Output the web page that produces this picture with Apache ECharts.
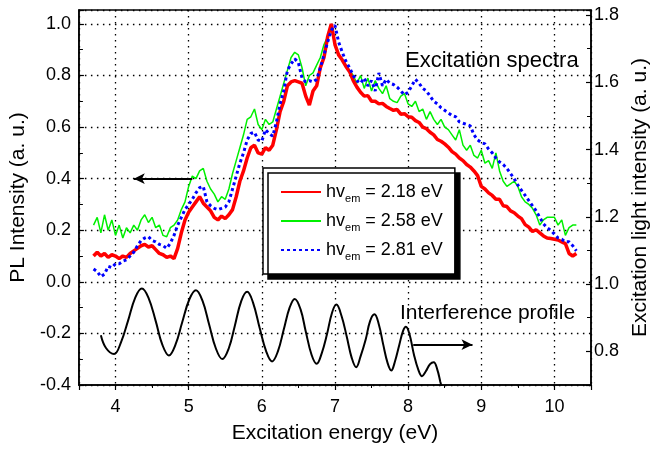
<!DOCTYPE html>
<html>
<head>
<meta charset="utf-8">
<script src="https://cdn.jsdelivr.net/npm/echarts/dist/echarts.min.js"></script>
<style>
  html, body { margin: 0; padding: 0; background: #fff; }
  #chart { width: 663px; height: 449px; }
</style>
</head>
<body>
<div id="chart"></div>
<script>
// excitation energy (eV), shared by the three PL spectra
const energy = [
  3.70, 3.75, 3.80, 3.85, 3.90, 3.95, 4.00, 4.05, 4.10, 4.15,
  4.20, 4.25, 4.30, 4.35, 4.40, 4.45, 4.50, 4.55, 4.60, 4.65,
  4.70, 4.75, 4.80, 4.85, 4.90, 4.95, 5.00, 5.05, 5.10, 5.15,
  5.20, 5.25, 5.30, 5.35, 5.40, 5.45, 5.50, 5.55, 5.60, 5.65,
  5.70, 5.75, 5.80, 5.85, 5.90, 5.95, 6.00, 6.05, 6.10, 6.15,
  6.20, 6.25, 6.30, 6.35, 6.40, 6.45, 6.50, 6.55, 6.60, 6.65,
  6.70, 6.75, 6.80, 6.85, 6.90, 6.95, 7.00, 7.05, 7.10, 7.15,
  7.20, 7.25, 7.30, 7.35, 7.40, 7.45, 7.50, 7.55, 7.60, 7.65,
  7.70, 7.75, 7.80, 7.85, 7.90, 7.95, 8.00, 8.05, 8.10, 8.15,
  8.20, 8.25, 8.30, 8.35, 8.40, 8.45, 8.50, 8.55, 8.60, 8.65,
  8.70, 8.75, 8.80, 8.85, 8.90, 8.95, 9.00, 9.05, 9.10, 9.15,
  9.20, 9.25, 9.30, 9.35, 9.40, 9.45, 9.50, 9.55, 9.60, 9.65,
  9.70, 9.75, 9.80, 9.85, 9.90, 9.95, 10.00, 10.05, 10.10, 10.15,
  10.20, 10.25, 10.30
];

// PL intensity, hv_em = 2.18 eV
const pl218 = [
  0.100, 0.115, 0.100, 0.110, 0.095, 0.105, 0.100, 0.090, 0.100, 0.095,
  0.110, 0.120, 0.130, 0.140, 0.145, 0.135, 0.140, 0.125, 0.110, 0.105,
  0.095, 0.100, 0.090, 0.130, 0.190, 0.240, 0.270, 0.290, 0.310, 0.330,
  0.305, 0.290, 0.275, 0.250, 0.240, 0.255, 0.245, 0.260, 0.280, 0.330,
  0.390, 0.430, 0.480, 0.520, 0.530, 0.500, 0.495, 0.520, 0.510, 0.530,
  0.590, 0.660, 0.700, 0.760, 0.775, 0.780, 0.775, 0.770, 0.720, 0.685,
  0.740, 0.760, 0.830, 0.870, 0.950, 1.000, 0.920, 0.880, 0.860, 0.835,
  0.815, 0.780, 0.755, 0.735, 0.720, 0.722, 0.700, 0.700, 0.690, 0.692,
  0.680, 0.672, 0.665, 0.668, 0.650, 0.652, 0.640, 0.638, 0.625, 0.618,
  0.600, 0.594, 0.580, 0.570, 0.552, 0.545, 0.535, 0.522, 0.505, 0.495,
  0.480, 0.470, 0.455, 0.445, 0.430, 0.412, 0.370, 0.360, 0.345, 0.335,
  0.320, 0.320, 0.295, 0.292, 0.275, 0.268, 0.255, 0.245, 0.222, 0.212,
  0.195, 0.202, 0.190, 0.178, 0.170, 0.168, 0.165, 0.162, 0.155, 0.148,
  0.110, 0.100, 0.110
];

// PL intensity, hv_em = 2.58 eV
const pl258 = [
  0.22, 0.25, 0.19, 0.26, 0.20, 0.24, 0.18, 0.22, 0.17, 0.21,
  0.19, 0.22, 0.20, 0.24, 0.26, 0.23, 0.25, 0.21, 0.22, 0.18,
  0.175, 0.21, 0.22, 0.24, 0.28, 0.31, 0.37, 0.41, 0.40, 0.43,
  0.44, 0.39, 0.36, 0.34, 0.31, 0.33, 0.32, 0.36, 0.42, 0.47,
  0.52, 0.57, 0.63, 0.64, 0.67, 0.61, 0.59, 0.63, 0.61, 0.62,
  0.67, 0.72, 0.77, 0.82, 0.87, 0.89, 0.88, 0.83, 0.76, 0.80,
  0.81, 0.84, 0.87, 0.92, 0.95, 0.98, 0.93, 0.88, 0.86, 0.84,
  0.82, 0.80, 0.77, 0.80, 0.75, 0.79, 0.74, 0.78, 0.75, 0.73,
  0.76, 0.71, 0.70, 0.695, 0.72, 0.73, 0.69, 0.68, 0.70, 0.66,
  0.67, 0.63, 0.66, 0.63, 0.61, 0.63, 0.60, 0.59, 0.57, 0.55,
  0.59, 0.53, 0.51, 0.53, 0.49, 0.48, 0.51, 0.46, 0.47, 0.44,
  0.50, 0.43, 0.39, 0.37, 0.38, 0.39, 0.37, 0.33, 0.31, 0.30,
  0.285, 0.26, 0.22, 0.24, 0.25, 0.25, 0.25, 0.22, 0.24, 0.18,
  0.21, 0.22, 0.22
];

// PL intensity, hv_em = 2.81 eV
const pl281 = [
  0.05, 0.04, 0.02, 0.03, 0.06, 0.055, 0.07, 0.07, 0.08, 0.085,
  0.10, 0.115, 0.14, 0.16, 0.17, 0.175, 0.16, 0.155, 0.145, 0.14,
  0.13, 0.15, 0.18, 0.22, 0.25, 0.28, 0.30, 0.32, 0.345, 0.365,
  0.37, 0.31, 0.295, 0.285, 0.28, 0.285, 0.29, 0.31, 0.36, 0.41,
  0.46, 0.50, 0.55, 0.575, 0.58, 0.55, 0.545, 0.59, 0.575, 0.565,
  0.62, 0.69, 0.74, 0.82, 0.845, 0.865, 0.85, 0.79, 0.775, 0.78,
  0.775, 0.785, 0.83, 0.88, 0.93, 0.975, 0.995, 0.93, 0.89, 0.855,
  0.83, 0.80, 0.78, 0.77, 0.79, 0.76, 0.78, 0.74, 0.81, 0.76,
  0.785, 0.77, 0.765, 0.755, 0.74, 0.725, 0.735, 0.76, 0.785, 0.77,
  0.75, 0.74, 0.72, 0.70, 0.69, 0.675, 0.665, 0.655, 0.645, 0.64,
  0.62, 0.615, 0.61, 0.605, 0.57, 0.55, 0.54, 0.535, 0.515, 0.50,
  0.48, 0.465, 0.455, 0.44, 0.42, 0.40, 0.375, 0.355, 0.335, 0.315,
  0.295, 0.275, 0.25, 0.225, 0.21, 0.20, 0.185, 0.17, 0.165, 0.155,
  0.155, 0.14, 0.12
];

// interference profile of the excitation light (right axis)
const profileE = [
  3.80, 3.87, 3.98, 4.08, 4.17, 4.27, 4.36, 4.45, 4.55, 4.64,
  4.73, 4.82, 4.91, 5.01, 5.10, 5.19, 5.28, 5.37, 5.46, 5.55,
  5.63, 5.72, 5.80, 5.88, 5.97, 6.06, 6.14, 6.22, 6.30, 6.38,
  6.45, 6.53, 6.60, 6.68, 6.75, 6.82, 6.89, 6.96, 7.02, 7.09,
  7.16, 7.23, 7.29, 7.35, 7.42, 7.48, 7.54, 7.60, 7.66, 7.72,
  7.77, 7.82, 7.88, 7.93, 7.97, 8.02, 8.08, 8.14, 8.19, 8.24,
  8.30, 8.35, 8.40, 8.44, 8.50
];
const profileI = [
  0.848, 0.810, 0.792, 0.830, 0.890, 0.960, 0.987, 0.960, 0.890, 0.820,
  0.788, 0.820, 0.885, 0.955, 0.982, 0.950, 0.880, 0.810, 0.777, 0.810,
  0.875, 0.950, 0.977, 0.945, 0.870, 0.800, 0.770, 0.800, 0.865, 0.930,
  0.956, 0.925, 0.860, 0.790, 0.763, 0.795, 0.850, 0.915, 0.939, 0.905,
  0.845, 0.780, 0.753, 0.785, 0.835, 0.890, 0.910, 0.880, 0.820, 0.765,
  0.743, 0.770, 0.820, 0.860, 0.873, 0.850, 0.790, 0.745, 0.726, 0.740,
  0.762, 0.768, 0.745, 0.710, 0.660
];

const emissions = ['2.18', '2.58', '2.81'];
const leftArrow = [[5.05, 0.40], [4.25, 0.40]];
const rightArrow = [[8.07, 0.82], [8.88, 0.82]];

const font = '"Liberation Sans", Arial, Helvetica, sans-serif';
const pairs = (xs, ys) => xs.map((x, i) => [x, ys[i]]);
const gridDots = { color: '#000', width: 1.3, type: [1.5, 4.5] };

const arrow = (pts) => ({
  silent: true,
  symbol: ['none', 'arrow'],
  symbolSize: [8, 11],
  label: { show: false },
  lineStyle: { color: '#000', width: 2, type: 'solid' },
  data: [[{ coord: pts[0] }, { coord: pts[1] }]]
});

const chart = echarts.init(document.getElementById('chart'));
chart.setOption({
  animation: false,
  textStyle: { fontFamily: font, color: '#000' },
  grid: {
    left: 78, right: 72, top: 10, bottom: 61,
    show: true, borderColor: '#000', borderWidth: 1.5
  },
  xAxis: {
    type: 'value', min: 3.5, max: 10.5, splitNumber: 7,
    name: 'Excitation energy (eV)', nameLocation: 'middle', nameGap: 38,
    nameTextStyle: { fontSize: 21, fontFamily: font, color: '#000' },
    axisLine: { onZero: false, lineStyle: { color: '#000', width: 1.5 } },
    axisTick: { inside: false, length: 5, lineStyle: { color: '#000', width: 1.2 } },
    minorTick: { show: true, splitNumber: 2, length: 3, lineStyle: { color: '#000', width: 1 } },
    axisLabel: { fontSize: 18, fontFamily: font, color: '#000', margin: 13, showMinLabel: false, showMaxLabel: false },
    splitLine: { show: true, lineStyle: gridDots }
  },
  yAxis: [{
    type: 'value', position: 'left', min: -0.4, max: 1.054, splitNumber: 7,
    name: 'PL Intensity (a. u.)', nameLocation: 'middle', nameGap: 42, nameRotate: 90,
    nameTextStyle: { fontSize: 21, fontFamily: font, color: '#000' },
    axisLine: { show: true, onZero: false, lineStyle: { color: '#000', width: 1.5 } },
    axisTick: { inside: true, length: 5, lineStyle: { color: '#000', width: 1.2 } },
    minorTick: { show: true, splitNumber: 2, length: 4, lineStyle: { color: '#000', width: 1 } },
    axisLabel: { fontSize: 18, fontFamily: font, color: '#000', margin: 8, showMaxLabel: false,
      formatter: v => v.toFixed(1) },
    splitLine: { show: true, lineStyle: gridDots }
  }, {
    type: 'value', position: 'right', min: 0.7, max: 1.815, splitNumber: 6,
    name: 'Excitation light intensity (a. u.)', nameLocation: 'middle', nameGap: 39, nameRotate: 90,
    nameTextStyle: { fontSize: 21, fontFamily: font, color: '#000' },
    axisLine: { show: true, onZero: false, lineStyle: { color: '#000', width: 1.5 } },
    axisTick: { inside: true, length: 5, lineStyle: { color: '#000', width: 1.2 } },
    minorTick: { show: true, splitNumber: 2, length: 4, lineStyle: { color: '#000', width: 1 } },
    axisLabel: { fontSize: 18, fontFamily: font, color: '#000', margin: 3, showMinLabel: false, showMaxLabel: false,
      formatter: v => v.toFixed(1) },
    splitLine: { show: false }
  }],
  legend: {
    orient: 'vertical', left: 263, top: 168,
    data: emissions, selectedMode: false,
    itemWidth: 40, itemHeight: 14, itemGap: 5,
    padding: [12, 12, 12, 17],
    backgroundColor: '#fff', borderColor: '#000', borderWidth: 1.5,
    shadowColor: '#000', shadowBlur: 0, shadowOffsetX: 5, shadowOffsetY: 5,
    itemStyle: { color: 'transparent', borderColor: 'transparent', borderWidth: 0, opacity: 0 },
    formatter: n => '{a|hv}{b|em}{a| = ' + n + ' eV}',
    textStyle: {
      lineHeight: 24,
      rich: {
        a: { fontSize: 18, fontFamily: font, color: '#000', lineHeight: 24 },
        b: { fontSize: 11, fontFamily: font, color: '#000', lineHeight: 9, verticalAlign: 'bottom' }
      }
    }
  },
  graphic: [
    { type: 'text', left: 405, top: 50, style: { text: 'Excitation spectra', font: '22px ' + font, fill: '#000' } },
    { type: 'text', left: 400, top: 303, style: { text: 'Interference profile', font: '21px ' + font, fill: '#000' } }
  ],
  series: [{
    name: emissions[0], type: 'line', z: 3, symbol: 'none',
    data: pairs(energy, pl218),
    lineStyle: { color: '#ff0000', width: 3.5 }, itemStyle: { color: '#ff0000' },
    markLine: arrow(leftArrow)
  }, {
    name: emissions[1], type: 'line', z: 2, symbol: 'none',
    data: pairs(energy, pl258),
    lineStyle: { color: '#00f000', width: 1.5 }, itemStyle: { color: '#00f000' }
  }, {
    name: emissions[2], type: 'line', z: 4, symbol: 'none',
    data: pairs(energy, pl281),
    lineStyle: { color: '#0000ff', width: 3, type: [3, 3] }, itemStyle: { color: '#0000ff' }
  }, {
    name: 'Interference profile', type: 'line', yAxisIndex: 1, z: 2, symbol: 'none', smooth: 0.4,
    data: pairs(profileE, profileI),
    lineStyle: { color: '#000', width: 2 }, itemStyle: { color: '#000' },
    markLine: arrow(rightArrow)
  }]
});
window.onresize = chart.resize;
</script>
</body>
</html>
